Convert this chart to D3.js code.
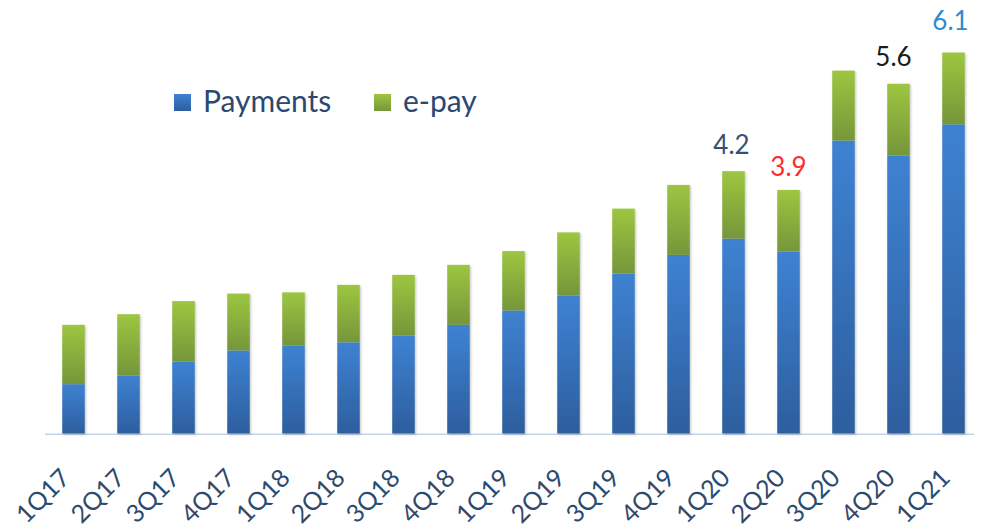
<!DOCTYPE html>
<html>
<head>
<meta charset="utf-8">
<script src="https://cdn.jsdelivr.net/npm/d3@7"></script>
<style>
  html, body { margin: 0; padding: 0; background: #ffffff; }
  svg { display: block; }
  text { font-family: Lato, "Open Sans", sans-serif; }
</style>
</head>
<body>
<svg id="chart" width="984" height="529"></svg>
<script>
// Quarterly volumes, stacked: Payments (bottom) + e-pay (top)
const quarters = ["1Q17","2Q17","3Q17","4Q17","1Q18","2Q18","3Q18","4Q18",
                  "1Q19","2Q19","3Q19","4Q19","1Q20","2Q20","3Q20","4Q20","1Q21"];
const payments = [0.79, 0.93, 1.15, 1.33, 1.41, 1.46, 1.57, 1.74,
                  1.97, 2.21, 2.56, 2.86, 3.12, 2.91, 4.69, 4.45, 4.95];
const epay     = [0.95, 0.98, 0.97, 0.91, 0.85, 0.92, 0.97, 0.96,
                  0.95, 1.01, 1.04, 1.12, 1.08, 0.99, 1.12, 1.15, 1.15];
const seriesNames = ["Payments", "e-pay"];

// Quarters whose total is called out above the bar
const labeledQuarters = ["1Q20", "2Q20", "4Q20", "1Q21"];
const labelColors     = ["#3a4e70", "#ff2b2b", "#1c1c1c", "#2e8ad3"];
const labelNudge      = [[-2, 1], [0, 4], [-5, 0], [-3, -5]];

const svg = d3.select("#chart");
const baseY = 433.5;

const rows = quarters.map((q, i) => ({ q, Payments: payments[i], "e-pay": epay[i] }));
const stacked = d3.stack().keys(seriesNames)(rows);

const x = d3.scaleBand()
  .domain(quarters)
  .range([46, 981])
  .paddingInner(0.59)
  .paddingOuter(0.295);

const y = d3.scaleLinear()
  .domain([0, 6.1])
  .range([baseY, 52.5]);

// Gradients per series, lighter at the top of each segment
const defs = svg.append("defs");
const grads = {
  "Payments": ["#3e82d2", "#2d5e9e"],
  "e-pay":    ["#9dc640", "#76963a"]
};
Object.entries(grads).forEach(([k, [c0, c1]], i) => {
  const g = defs.append("linearGradient")
    .attr("id", "grad" + i).attr("x1", 0).attr("y1", 0).attr("x2", 0).attr("y2", 1);
  g.append("stop").attr("offset", "0%").attr("stop-color", c0);
  g.append("stop").attr("offset", "100%").attr("stop-color", c1);
});
const f = defs.append("filter").attr("id", "shadow")
  .attr("x", "-20%").attr("y", "-5%").attr("width", "150%").attr("height", "115%");
f.append("feDropShadow").attr("dx", 1.2).attr("dy", 1.2).attr("stdDeviation", 1.2)
  .attr("flood-color", "#000").attr("flood-opacity", 0.22);

// Baseline
svg.append("line")
  .attr("x1", 45).attr("x2", 974)
  .attr("y1", baseY + 0.8).attr("y2", baseY + 0.8)
  .attr("stroke", "#c3d4e8").attr("stroke-width", 1.6);

// Bars
const layer = svg.append("g").attr("filter", "url(#shadow)");
stacked.forEach((s, si) => {
  layer.append("g").selectAll("rect")
    .data(s)
    .join("rect")
    .attr("x", d => x(d.data.q))
    .attr("width", x.bandwidth())
    .attr("y", d => y(d[1]))
    .attr("height", d => y(d[0]) - y(d[1]))
    .attr("fill", `url(#grad${si})`);
});

// Total labels
labeledQuarters.forEach((q, k) => {
  const i = quarters.indexOf(q);
  const total = payments[i] + epay[i];
  svg.append("text")
    .attr("x", x(q) + x.bandwidth() / 2 + labelNudge[k][0])
    .attr("y", y(total) - 18 + labelNudge[k][1])
    .attr("text-anchor", "middle")
    .attr("font-size", 26)
    .attr("fill", labelColors[k])
    .text(d3.format(".1f")(total));
});

// X axis labels, rotated
const xAxis = d3.axisBottom(x).tickSize(0).tickPadding(0);
const gx = svg.append("g").attr("transform", `translate(0,${baseY})`).call(xAxis);
gx.select(".domain").remove();
gx.selectAll(".tick text")
  .attr("font-size", 25)
  .attr("font-family", "Lato, 'Open Sans', sans-serif")
  .attr("fill", "#2c4a6e")
  .attr("text-anchor", "end")
  .attr("dy", null)
  .attr("transform", "translate(-2,46) rotate(-45)");

// Legend
const legendX = [174, 374];
seriesNames.forEach((name, i) => {
  const g = svg.append("g").attr("transform", `translate(${legendX[i]},94)`);
  g.append("rect").attr("width", 17).attr("height", 17)
    .attr("fill", `url(#grad${i})`);
  g.append("text").attr("x", 29).attr("y", 17.5)
    .attr("font-size", 30).attr("fill", "#2c4870")
    .text(name);
});
</script>
</body>
</html>
